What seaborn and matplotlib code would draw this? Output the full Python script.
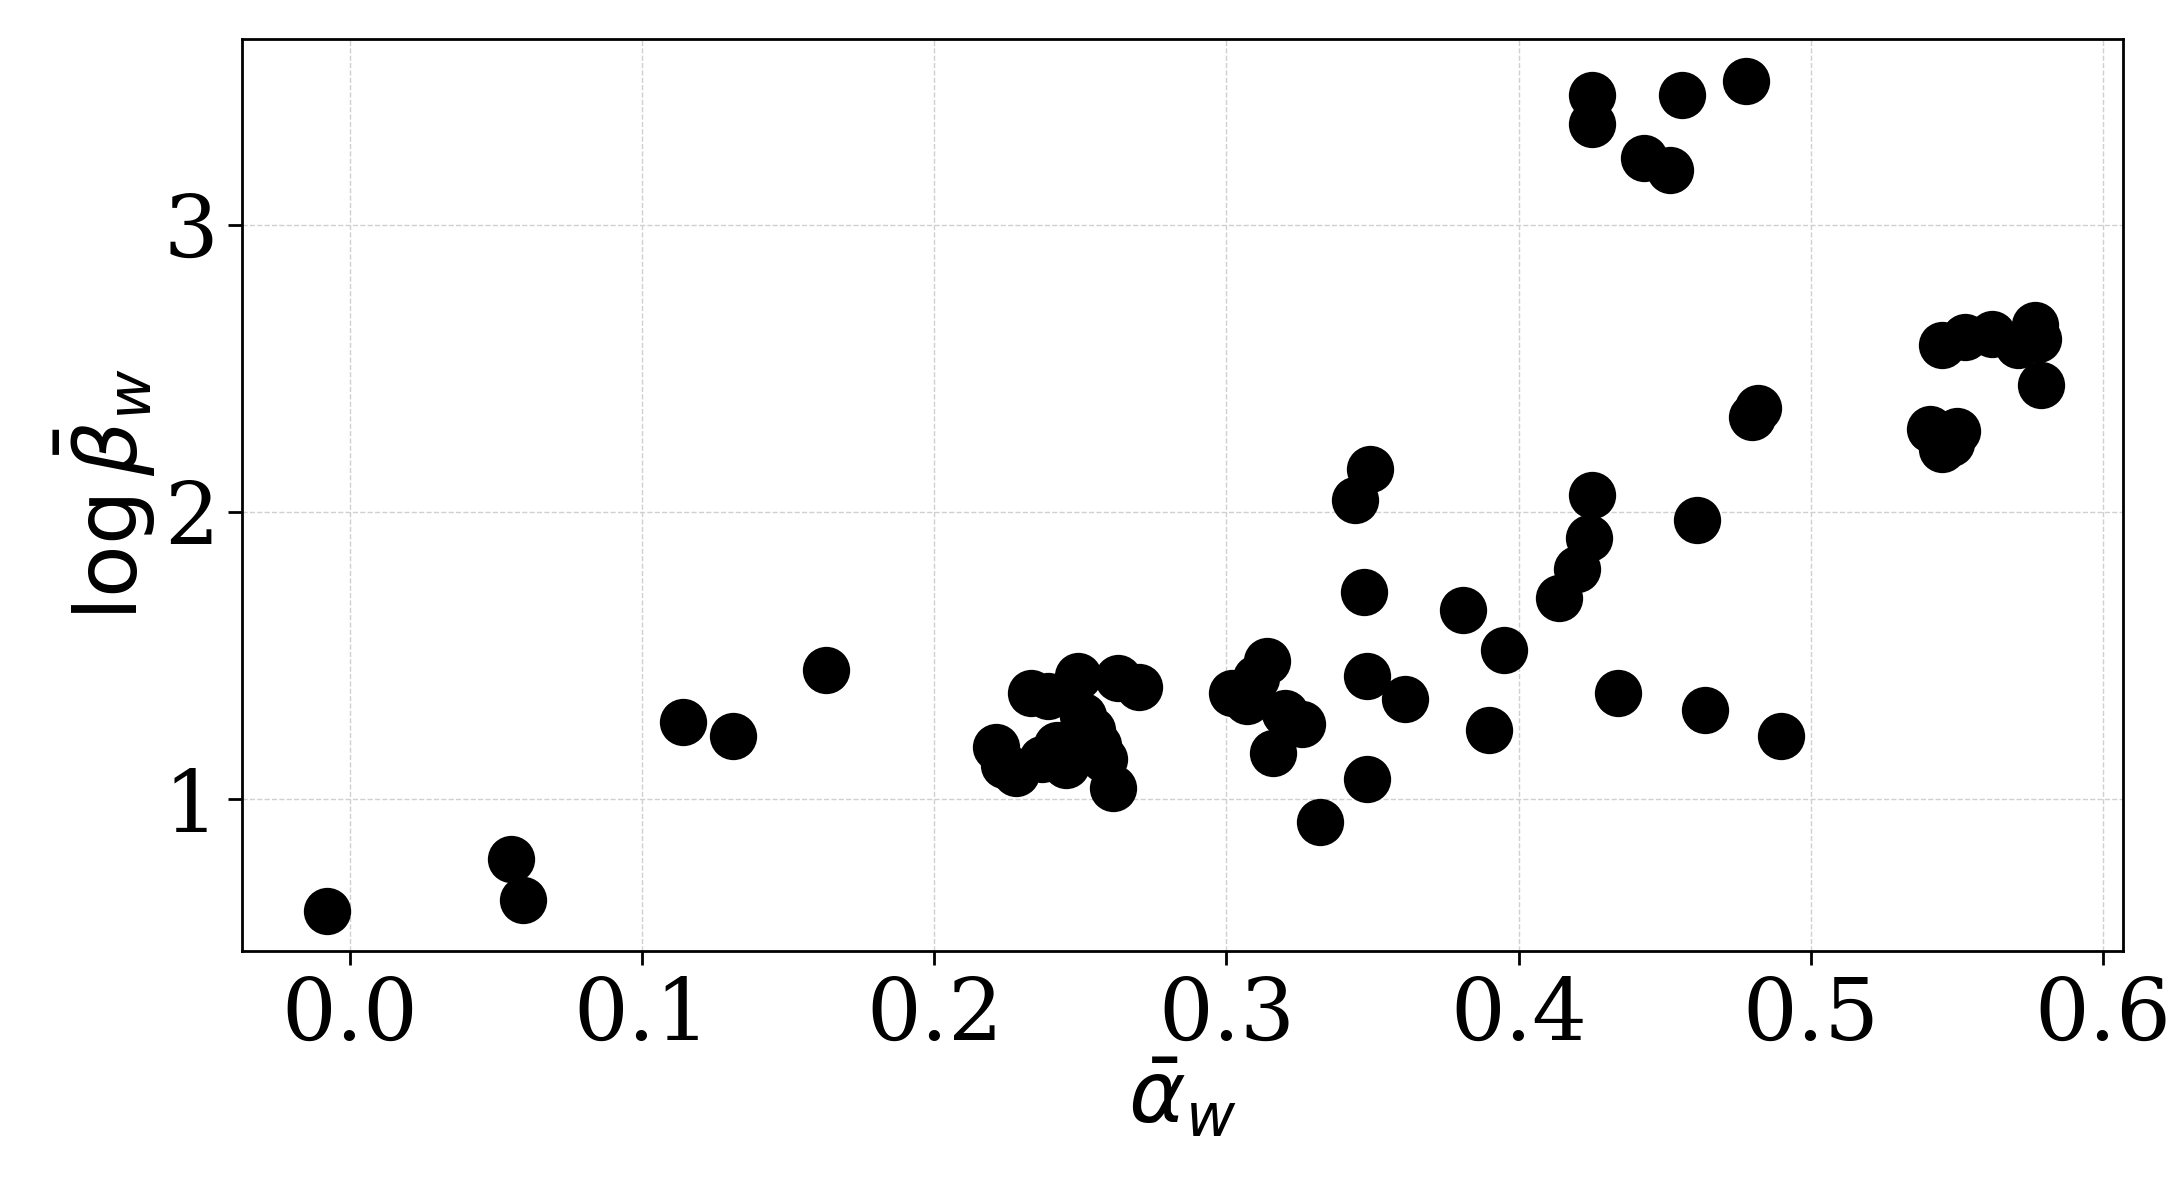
import matplotlib
matplotlib.use("Agg")
from matplotlib import pyplot as plt
import seaborn as sns
import pandas as pd

alpha_w = [-0.008, 0.055, 0.059, 0.114, 0.131, 0.163, 0.221, 0.224, 0.228, 0.233,
           0.239, 0.237, 0.242, 0.245, 0.249, 0.251, 0.254, 0.256, 0.258, 0.261,
           0.263, 0.270, 0.302, 0.307, 0.310, 0.314, 0.320, 0.326, 0.316, 0.332,
           0.344, 0.349, 0.347, 0.348, 0.348, 0.361, 0.381, 0.390, 0.395, 0.414,
           0.420, 0.424, 0.425, 0.425, 0.425, 0.434, 0.443, 0.452, 0.456, 0.461,
           0.464, 0.478, 0.480, 0.482, 0.490, 0.541, 0.545, 0.548, 0.550, 0.545,
           0.553, 0.562, 0.571, 0.577, 0.578, 0.579]
log_beta_w = [0.61, 0.79, 0.65, 1.27, 1.22, 1.45, 1.18, 1.12, 1.09, 1.37,
              1.36, 1.14, 1.19, 1.12, 1.43, 1.29, 1.24, 1.19, 1.14, 1.04,
              1.42, 1.39, 1.37, 1.34, 1.42, 1.48, 1.30, 1.26, 1.16, 0.92,
              2.04, 2.15, 1.72, 1.43, 1.07, 1.35, 1.66, 1.24, 1.52, 1.70,
              1.80, 1.91, 2.06, 3.45, 3.35, 1.37, 3.23, 3.19, 3.45, 1.97,
              1.31, 3.50, 2.33, 2.36, 1.22, 2.29, 2.22, 2.24, 2.28, 2.58,
              2.61, 2.62, 2.58, 2.65, 2.60, 2.44]

df = pd.DataFrame({"alpha": alpha_w, "beta": log_beta_w})

sns.set_style("white")
plt.rcParams["font.family"] = ["DejaVu Serif"]
plt.rcParams["mathtext.fontset"] = "dejavusans"
plt.rcParams["text.color"] = "black"
plt.rcParams["axes.labelcolor"] = "black"
plt.rcParams["xtick.color"] = "black"
plt.rcParams["ytick.color"] = "black"

fig = plt.figure(figsize=(10.91, 5.95), dpi=200)
ax = fig.add_axes([0.111, 0.201, 0.862, 0.766])
sns.scatterplot(data=df, x="alpha", y="beta", ax=ax, color="black", s=290,
                edgecolor="black", linewidth=0, zorder=3)
ax.grid(True, linestyle="--", linewidth=0.5, color="#d0d0d0")
ax.set_xlim(-0.037, 0.607)
ax.set_ylim(0.472, 3.645)
ax.set_xticks([0.0, 0.1, 0.2, 0.3, 0.4, 0.5, 0.6])
ax.set_yticks([1, 2, 3])
ax.tick_params(labelsize=31, length=5, width=1, direction="out", bottom=True, left=True,
               colors="black")
for s in ax.spines.values():
    s.set_color("black")
    s.set_linewidth(1)
ax.set_xlabel(r"$\bar{\alpha}_w$", fontsize=31, labelpad=0)
ax.set_ylabel(r"$\log\bar{\beta}_w$", fontsize=31, labelpad=2)
fig.savefig("out.png", dpi=200)
